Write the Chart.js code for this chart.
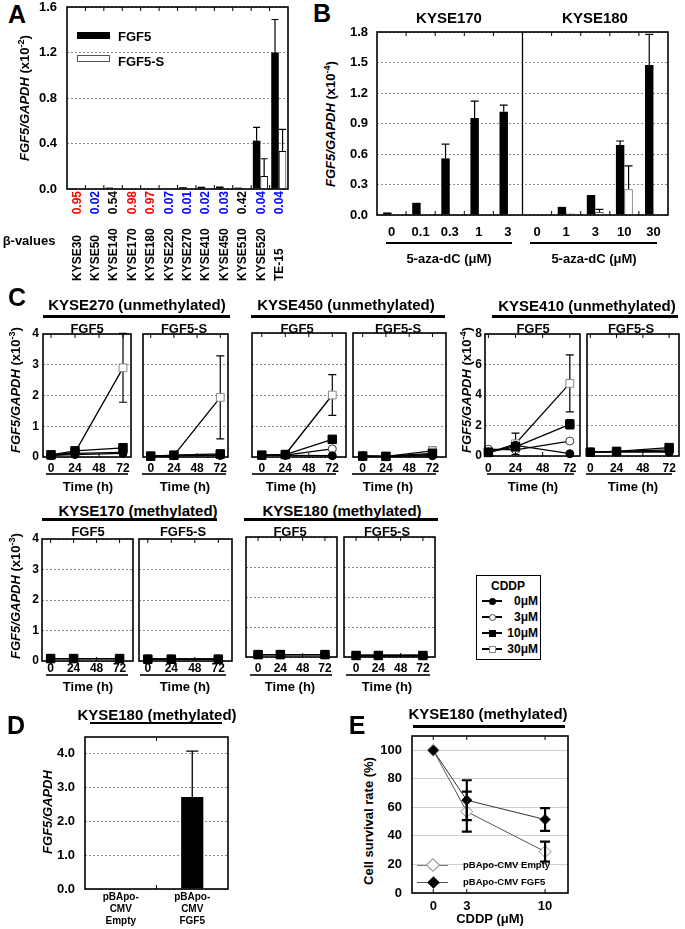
<!DOCTYPE html>
<html><head><meta charset="utf-8">
<script src="https://cdn.jsdelivr.net/npm/chart.js@4.4.1/dist/chart.umd.min.js"></script>
<style>
html,body{margin:0;padding:0;background:#fff;}
#fig{position:relative;width:685px;height:929px;overflow:hidden;background:#fff;font-family:"Liberation Sans",Arial,sans-serif;font-weight:bold;color:#000;}
#fig canvas{position:absolute;}
.t{position:absolute;white-space:nowrap;transform:translate(-50%,-50%);line-height:1;z-index:2;}
.l{position:absolute;white-space:nowrap;transform:translate(0,-50%);line-height:1;z-index:2;}
.rt{position:absolute;white-space:nowrap;transform:translate(-100%,-50%);line-height:1;z-index:2;}
.r{position:absolute;white-space:nowrap;transform:translate(-50%,-50%) rotate(-90deg);line-height:1;z-index:2;}
.u{position:absolute;background:#000;z-index:2;}
.box{position:absolute;z-index:2;box-sizing:border-box;}
sup{font-size:0.7em;vertical-align:0.45em;line-height:0;}
</style></head>
<body><div id="fig"></div>
<script>
// ================= DATA =================
// Panel A: FGF5 / FGF5-S expression (x10^-2) in cell lines, with beta-values
const cellLinesA = ['KYSE30','KYSE50','KYSE140','KYSE170','KYSE180','KYSE220','KYSE270','KYSE410','KYSE450','KYSE510','KYSE520','TE-15'];
const betaValuesA = [0.95,0.02,0.54,0.98,0.97,0.07,0.01,0.02,0.03,0.42,0.04,0.04];
const fgf5A = [0.002,0.004,0.012,0.004,0.003,0.006,0.016,0.02,0.022,0.012,0.425,1.20];
const fgf5ErrA = [0,0,0,0,0,0,0,0,0,0,0.117,0.29];
const fgf5sA = [0,0.001,0.003,0.001,0.001,0.001,0.004,0.004,0.005,0.003,0.114,0.334];
const fgf5sErrA = [0,0,0,0,0,0,0,0,0,0,0.152,0.19];
const yTicksA = [0,0.4,0.8,1.2,1.6];

// Panel B: 5-aza-dC treatment (x10^-4)
const cellLinesB = ['KYSE170','KYSE180'];
const dosesB = ['0','0.1','0.3','1','3','0','1','3','10','30'];
const fgf5B = [0.025,0.12,0.557,0.955,1.015,0.006,0.08,0.197,0.688,1.476];
const fgf5ErrB = [0,0,0.14,0.165,0.065,0,0,0,0.04,0.3];
const fgf5sB = [0.002,0.004,0.002,0.002,0.002,0.002,0.015,0.03,0.253,0.002];
const fgf5sErrB = [0,0,0,0,0,0,0,0.025,0.23,0];
const yTicksB = [0,0.3,0.6,0.9,1.2,1.5,1.8];

// Panel C: time course after CDDP; rows = 0, 3, 10, 30 uM
const timeC = [0,24,72];
const xTicksC = [0,24,48,72];
const cddpC = ['0μM','3μM','10μM','30μM'];
const k270FGF5 = [[0.05,0.08,0.12],[0.05,0.12,0.15],[0.07,0.2,0.3],[0.06,0.15,2.9]];
const k270FGF5Err = [[0,0,0],[0,0,0],[0,0.03,0.06],[0,0.05,1.12]];
const k270FGF5S = [[0.02,0.04,0.05],[0.02,0.05,0.06],[0.03,0.06,0.1],[0.02,0.05,1.94]];
const k270FGF5SErr = [[0,0,0],[0,0,0],[0,0,0],[0,0,1.35]];
const k450FGF5 = [[0.05,0.05,0.04],[0.05,0.06,0.26],[0.06,0.08,0.57],[0.05,0.08,2.0]];
const k450FGF5Err = [[0,0,0],[0,0,0.04],[0,0,0.08],[0,0,0.66]];
const k450FGF5S = [[0.03,0.02,0.04],[0.03,0.02,0.08],[0.03,0.02,0.12],[0.03,0.02,0.2]];
const k450FGF5SErr = [[0,0,0],[0,0,0],[0,0,0],[0,0,0.12]];
const k410FGF5 = [[0.25,0.7,0.15],[0.45,0.4,0.98],[0.25,0.6,2.08],[0.2,0.8,4.76]];
const k410FGF5Err = [[0,0,0],[0,0,0.1],[0,0.3,0.3],[0,0.7,1.87]];
const k410FGF5S = [[0.25,0.25,0.25],[0.25,0.3,0.3],[0.25,0.3,0.55],[0.25,0.3,0.4]];
const k170FGF5 = [[0.08,0.08,0.08],[0.08,0.08,0.08],[0.08,0.08,0.08],[0.08,0.08,0.08]];
const k170FGF5S = [[0.06,0.06,0.06],[0.06,0.06,0.06],[0.06,0.06,0.06],[0.06,0.06,0.06]];
const k180FGF5 = [[0.08,0.08,0.08],[0.08,0.08,0.08],[0.08,0.08,0.08],[0.08,0.08,0.08]];
const k180FGF5S = [[0.05,0.05,0.05],[0.05,0.05,0.05],[0.05,0.05,0.05],[0.05,0.05,0.05]];
const yTicksC3 = [0,1,2,3,4];
const yTicksC4 = [0,2,4,6,8];

// Panel D
const vectorsD = [['pBApo-','CMV','Empty'],['pBApo-','CMV','FGF5']];
const fgf5D = [0, 2.72];
const fgf5ErrD = [0, 1.36];
const yTicksD = [0,1,2,3,4];

// Panel E
const cddpE = [0,3,10];
const survEmptyE = [100,57,29];
const survEmptyErrE = [0,14,7];
const survFgf5E = [100,65,51.5];
const survFgf5ErrE = [0,14,8];
const xTicksE = [0,3,10];
const yTicksE = [0,20,40,60,80,100];

// ================= HELPERS =================
const FONT = '"Liberation Sans", Arial, sans-serif';
Chart.defaults.font.family = FONT;
Chart.defaults.font.weight = 'bold';
Chart.defaults.color = '#000';
const fig = document.getElementById('fig');

function el(cls, html, x, y, size, extra) {
  const d = document.createElement('div');
  d.className = cls; d.innerHTML = html;
  d.style.left = x + 'px'; d.style.top = y + 'px';
  if (size) d.style.fontSize = size + 'px';
  if (extra) Object.assign(d.style, extra);
  fig.appendChild(d); return d;
}
function uline(x1, x2, y, th, color) {
  const d = document.createElement('div'); d.className = 'u';
  Object.assign(d.style, {left: x1 + 'px', top: (y - th / 2) + 'px', width: (x2 - x1) + 'px', height: th + 'px', background: color || '#000'});
  fig.appendChild(d);
}
function boxDiv(x, y, w, h, style) {
  const d = document.createElement('div'); d.className = 'box';
  Object.assign(d.style, {left: x + 'px', top: y + 'px', width: w + 'px', height: h + 'px'}, style);
  fig.appendChild(d); return d;
}

function mk(b, config) {
  const c = document.createElement('canvas');
  c.width = b.cw; c.height = b.ch;
  Object.assign(c.style, {left: b.cx + 'px', top: b.cy + 'px', width: b.cw + 'px', height: b.ch + 'px'});
  fig.appendChild(c);
  const yW = b.pl - b.cx, xH = b.cy + b.ch - b.pb;
  const o = config.options;
  o.responsive = false; o.animation = false; o.events = [];
  o.devicePixelRatio = 1;
  o.layout = {padding: {left: 0, top: b.pt - b.cy, right: b.cx + b.cw - b.pr, bottom: 0}};
  o.scales.x.afterFit = s => { s.height = xH; s.paddingLeft = 0; s.paddingRight = 0; s.paddingTop = 0; s.paddingBottom = 0; };
  o.scales.y.afterFit = s => { s.width = yW; s.paddingLeft = 0; s.paddingRight = 0; s.paddingTop = 0; s.paddingBottom = 0; };
  o.plugins = Object.assign({legend: {display: false}, tooltip: {enabled: false}}, o.plugins || {});
  return new Chart(c, config);
}

// plot frame with small inward tick marks
function frame(mode) {
  return {
    id: 'frame',
    afterDraw(chart) {
      const a = chart.chartArea, ctx = chart.ctx, xs = chart.scales.x;
      let pos = [];
      if (mode === 'cat') {
        for (let i = 0; i < chart.data.labels.length - 1; i++) pos.push(xs.getPixelForValue(i + 0.5));
      } else {
        pos = xs.ticks.map(t => xs.getPixelForValue(t.value));
      }
      ctx.save(); ctx.strokeStyle = '#000'; ctx.setLineDash([]);
      ctx.lineWidth = 1;
      ctx.beginPath();
      pos.forEach(x => { ctx.moveTo(x, a.top); ctx.lineTo(x, a.top + 4); ctx.moveTo(x, a.bottom); ctx.lineTo(x, a.bottom - 4); });
      ctx.stroke();
      ctx.lineWidth = 1.6;
      ctx.strokeRect(a.left, a.top, a.right - a.left, a.bottom - a.top);
      ctx.restore();
    }
  };
}

function errorBars(specs, o) {
  const draw = chart => {
    const ctx = chart.ctx, ys = chart.scales.y;
    ctx.save(); ctx.strokeStyle = o.color || '#000'; ctx.lineWidth = o.lw || 1.2; ctx.setLineDash([]);
    specs.forEach(s => {
      if (!s.err) return;
      const meta = chart.getDatasetMeta(s.ds);
      meta.data.forEach((p, i) => {
        const e = s.err[i]; if (!e) return;
        const v = s.vals[i];
        const yt = ys.getPixelForValue(v + e);
        const yb = o.both ? ys.getPixelForValue(v - e) : p.y;
        const hw = o.cap / 2;
        ctx.beginPath();
        ctx.moveTo(p.x, yb); ctx.lineTo(p.x, yt);
        ctx.moveTo(p.x - hw, yt); ctx.lineTo(p.x + hw, yt);
        if (o.both) { ctx.moveTo(p.x - hw, yb); ctx.lineTo(p.x + hw, yb); }
        ctx.stroke();
      });
    });
    ctx.restore();
  };
  return o.after ? {id: 'errorBars', afterDatasetsDraw: draw} : {id: 'errorBars', beforeDatasetsDraw: draw};
}

function yAxis(ticksArr, max, fmt, size, pad, show) {
  return {
    min: 0, max: max,
    afterBuildTicks: s => { s.ticks = ticksArr.map(v => ({value: v})); },
    ticks: {display: show !== false, callback: v => fmt(v), font: {size: size, weight: 'bold'}, color: '#000', padding: pad},
    grid: {color: '#8a8a8a', lineWidth: 1, drawTicks: false},
    border: {display: false, dash: [2, 2]}
  };
}
const noGrid = {display: false, drawTicks: false};

function betaColor(v) { return v >= 0.9 ? '#ff0000' : (v <= 0.1 ? '#0000ff' : '#000'); }

// ================= PANEL A =================
const rotLabelsPlugin = {
  id: 'rotLabels',
  afterDraw(chart) {
    const ctx = chart.ctx, xs = chart.scales.x, bottom = chart.chartArea.bottom;
    ctx.save(); ctx.font = 'bold 12px ' + FONT; ctx.textBaseline = 'middle';
    cellLinesA.forEach((n, i) => {
      const x = xs.getPixelForValue(i) + 1;
      // beta value, right-aligned just under the axis
      ctx.save(); ctx.translate(x, bottom + 2); ctx.rotate(-Math.PI / 2);
      ctx.textAlign = 'right'; ctx.fillStyle = betaColor(betaValuesA[i]);
      ctx.fillText(betaValuesA[i].toFixed(2), 0, 0); ctx.restore();
      // cell line name, bottom-aligned
      ctx.save(); ctx.translate(x, bottom + 92); ctx.rotate(-Math.PI / 2);
      ctx.textAlign = 'left'; ctx.fillStyle = '#000';
      ctx.fillText(n, 0, 0); ctx.restore();
    });
    ctx.restore();
  }
};
mk({cx: 30, cy: 0, cw: 265, ch: 292, pl: 67, pt: 7, pr: 288, pb: 189}, {
  type: 'bar',
  data: {labels: cellLinesA, datasets: [
    {label: 'FGF5', data: fgf5A, backgroundColor: '#000', borderWidth: 0, categoryPercentage: 0.82, barPercentage: 1},
    {label: 'FGF5-S', data: fgf5sA, backgroundColor: '#fff', borderColor: '#000', borderWidth: 1, categoryPercentage: 0.82, barPercentage: 1}
  ]},
  options: {scales: {
    x: {ticks: {display: false}, grid: noGrid, border: {display: false}},
    y: yAxis(yTicksA, 1.6, v => v.toFixed(1), 13, 10)
  }},
  plugins: [errorBars([{ds: 0, vals: fgf5A, err: fgf5ErrA}, {ds: 1, vals: fgf5sA, err: fgf5sErrA}], {cap: 7, lw: 1.2, after: true}), frame('cat'), rotLabelsPlugin]
});
el('t', 'A', 17, 14, 25);
el('r', '<i>FGF5/GAPDH</i> (x10<sup>-2</sup>)', 24, 98, 13);
el('t', 'β-values', 29, 240, 13);
boxDiv(77, 32, 33, 7, {background: '#000'});
el('l', 'FGF5', 118, 36, 13);
boxDiv(77, 55, 33, 7, {background: '#fff', border: '1px solid #555'});
el('l', 'FGF5-S', 118, 61, 13);

// ================= PANEL B =================
const dividerPlugin = {
  id: 'divider',
  afterDraw(chart) {
    const a = chart.chartArea, ctx = chart.ctx, xs = chart.scales.x;
    const x = xs.getPixelForValue(dosesB.length / 2 - 0.5);
    ctx.save(); ctx.strokeStyle = '#000'; ctx.lineWidth = 1.3;
    ctx.beginPath(); ctx.moveTo(x, a.top); ctx.lineTo(x, a.bottom); ctx.stroke(); ctx.restore();
  }
};
mk({cx: 345, cy: 25, cw: 330, ch: 222, pl: 377, pt: 32, pr: 668, pb: 215}, {
  type: 'bar',
  data: {labels: dosesB, datasets: [
    {label: 'FGF5', data: fgf5B, backgroundColor: '#000', borderWidth: 0, categoryPercentage: 0.58, barPercentage: 1},
    {label: 'FGF5-S', data: fgf5sB, backgroundColor: '#fff', borderColor: '#555', borderWidth: 1, categoryPercentage: 0.58, barPercentage: 1}
  ]},
  options: {scales: {
    x: {ticks: {autoSkip: false, maxRotation: 0, padding: 10, font: {size: 13, weight: 'bold'}}, grid: noGrid, border: {display: false}},
    y: yAxis(yTicksB, 1.8, v => v.toFixed(1), 13, 9)
  }},
  plugins: [errorBars([{ds: 0, vals: fgf5B, err: fgf5ErrB}, {ds: 1, vals: fgf5sB, err: fgf5sErrB}], {cap: 8, lw: 1.2, after: true}), frame('cat'), dividerPlugin]
});
el('t', 'B', 322, 13, 25);
el('t', cellLinesB[0], 449, 17, 15);
el('t', cellLinesB[1], 595, 17, 15);
el('r', '<i>FGF5/GAPDH</i> (x10<sup>-4</sup>)', 330, 124, 13);
uline(386, 512, 243, 2); uline(530, 657, 243, 2);
el('t', '5-aza-dC (μM)', 449, 258, 13);
el('t', '5-aza-dC (μM)', 594, 258, 13);

// ================= PANEL C =================
const cStyles = [
  {pointStyle: 'circle', pointRadius: 4, pointBackgroundColor: '#000', pointBorderColor: '#000'},
  {pointStyle: 'circle', pointRadius: 4, pointBackgroundColor: '#fff', pointBorderColor: '#444'},
  {pointStyle: 'rect', pointRadius: 6, pointBackgroundColor: '#000', pointBorderColor: '#000'},
  {pointStyle: 'rect', pointRadius: 5.5, pointBackgroundColor: '#fff', pointBorderColor: '#888'}
];
const drawOrder = [2, 0, 1, 3];
function cPlot(b, series, errs, yTicks, ymax, showY, ypad, xmin, xmax, xpad) {
  const box = Object.assign({cx: b.pl - (showY ? 24 : 3), cy: b.pt - 7}, b);
  box.cw = b.pr - box.cx + 7; box.ch = b.pb - box.cy + 20;
  const datasets = drawOrder.map(k => Object.assign({
    label: cddpC[k], data: timeC.map((t, i) => ({x: t, y: series[k][i]})),
    borderColor: '#000', borderWidth: 1.3, pointBorderWidth: 1, clip: false
  }, cStyles[k]));
  const specs = drawOrder.map((k, di) => ({ds: di, vals: series[k], err: errs ? errs[k] : null}));
  mk(box, {
    type: 'line',
    data: {datasets: datasets},
    options: {scales: {
      x: {type: 'linear', min: xmin, max: xmax,
          afterBuildTicks: s => { s.ticks = xTicksC.map(v => ({value: v})); },
          ticks: {padding: xpad, font: {size: 12, weight: 'bold'}, maxRotation: 0},
          grid: noGrid, border: {display: false}},
      y: yAxis(yTicks, ymax, v => String(v), 12, ypad, showY)
    }},
    plugins: [errorBars(specs, {cap: 8, lw: 1.2, both: true}), frame('lin')]
  });
}
// top row
cPlot({pl: 43, pt: 334, pr: 131, pb: 457}, k270FGF5, k270FGF5Err, yTicksC3, 4, true, 4, -8, 80, 4);
cPlot({pl: 139, pt: 334, pr: 228, pb: 457}, k270FGF5S, k270FGF5SErr, yTicksC3, 4, false, 4, -8, 80, 4);
cPlot({pl: 248, pt: 333, pr: 346, pb: 457}, k450FGF5, k450FGF5Err, yTicksC3, 4, false, 4, -10, 86, 4);
cPlot({pl: 349, pt: 333, pr: 446, pb: 457}, k450FGF5S, k450FGF5SErr, yTicksC3, 4, false, 4, -10, 86, 4);
cPlot({pl: 485, pt: 334, pr: 580, pb: 456}, k410FGF5, k410FGF5Err, yTicksC4, 8, true, 3, -3, 81, 5);
cPlot({pl: 583, pt: 334, pr: 679, pb: 456}, k410FGF5S, null, yTicksC4, 8, false, 3, -3, 81, 5);
// bottom row
cPlot({pl: 42, pt: 539, pr: 133, pb: 661}, k170FGF5, null, yTicksC3, 4, true, 3, -9, 86, 0);
cPlot({pl: 135, pt: 539, pr: 232, pb: 661}, k170FGF5S, null, yTicksC3, 4, false, 3, -9, 86, 0);
cPlot({pl: 242, pt: 537, pr: 337, pb: 657}, k180FGF5, null, yTicksC3, 4, false, 3, -13, 85, 4);
cPlot({pl: 340, pt: 537, pr: 435, pb: 657}, k180FGF5S, null, yTicksC3, 4, false, 3, -13, 85, 4);

el('t', 'C', 17, 297, 25);
el('t', 'KYSE270 (unmethylated)', 137, 304, 15); uline(43, 230, 316, 3);
el('t', 'KYSE450 (unmethylated)', 346, 304, 15); uline(251, 445, 316, 3);
el('t', 'KYSE410 (unmethylated)', 587, 305, 15); uline(492, 678, 316, 3);
el('t', 'KYSE170 (methylated)', 138, 510, 15); uline(42, 217, 519, 3);
el('t', 'KYSE180 (methylated)', 342, 510, 15); uline(244, 438, 519, 3);
[[87, 328, 'FGF5'], [184, 328, 'FGF5-S'], [297, 328, 'FGF5'], [398, 328, 'FGF5-S'], [533, 328, 'FGF5'], [631, 328, 'FGF5-S'],
 [88, 531, 'FGF5'], [183, 531, 'FGF5-S'], [290, 531, 'FGF5'], [387, 531, 'FGF5-S']].forEach(a => el('t', a[2], a[0], a[1], 13));
el('r', '<i>FGF5/GAPDH</i> (x10<sup>-3</sup>)', 15, 390, 13);
el('r', '<i>FGF5/GAPDH</i> (x10<sup>-4</sup>)', 466, 390, 13);
el('r', '<i>FGF5/GAPDH</i> (x10<sup>-3</sup>)', 15, 596, 13);
[[46, 128, 88, 474, 486], [142, 226, 185, 474, 486], [252, 336, 291, 474, 486], [352, 436, 388, 474, 486],
 [487, 574, 533, 474, 486], [586, 672, 633, 474, 486],
 [46, 128, 88, 675, 686], [140, 226, 185, 675, 686], [250, 332, 290, 675, 686], [346, 430, 387, 675, 686]].forEach(a => {
  uline(a[0], a[1], a[3], 1.5, '#333'); el('t', 'Time (h)', a[2], a[4], 13);
});
// CDDP legend
boxDiv(476, 575, 65, 85, {border: '1px solid #000', background: '#fff'});
el('t', 'CDDP', 508, 586, 12);
const legY = [601, 617, 633, 649];
const legMarks = [
  {w: 7, h: 7, background: '#000', borderRadius: '50%'},
  {w: 7, h: 7, background: '#fff', border: '1px solid #444', borderRadius: '50%'},
  {w: 7, h: 7, background: '#000'},
  {w: 7, h: 7, background: '#fff', border: '1px solid #888'}
];
cddpC.forEach((lab, i) => {
  uline(482, 502, legY[i], 1.3, '#000');
  const m = legMarks[i];
  boxDiv(492 - m.w / 2, legY[i] - m.h / 2, m.w, m.h, {background: m.background, border: m.border || 'none', borderRadius: m.borderRadius || '0'});
  el('rt', lab, 538, legY[i], 12);
});

// ================= PANEL D =================
mk({cx: 50, cy: 730, cw: 185, ch: 197, pl: 85, pt: 737, pr: 228, pb: 889}, {
  type: 'bar',
  data: {labels: vectorsD, datasets: [
    {label: 'FGF5/GAPDH', data: fgf5D, backgroundColor: '#000', borderWidth: 0, categoryPercentage: 1, barPercentage: 0.31}
  ]},
  options: {scales: {
    x: {ticks: {autoSkip: false, maxRotation: 0, padding: 2, font: {size: 10, weight: 'bold', lineHeight: 1.2}}, grid: noGrid, border: {display: false}},
    y: yAxis(yTicksD, 4.5, v => v.toFixed(1), 13, 10)
  }},
  plugins: [errorBars([{ds: 0, vals: fgf5D, err: fgf5ErrD}], {cap: 12, lw: 1.3, after: true}), frame('cat')]
});
el('t', 'D', 16, 725, 25);
el('t', 'KYSE180 (methylated)', 157, 714, 15); uline(90, 222, 723, 2);
el('r', '<i>FGF5/GAPDH</i>', 47, 812, 13);

// ================= PANEL E =================
mk({cx: 380, cy: 728, cw: 195, ch: 198, pl: 412, pt: 736, pr: 570, pb: 893}, {
  type: 'line',
  data: {datasets: [
    {label: 'pBApo-CMV FGF5', data: cddpE.map((x, i) => ({x: x, y: survFgf5E[i]})), borderColor: '#333', borderWidth: 1,
     pointStyle: 'rectRot', pointRadius: 5, pointBackgroundColor: '#000', pointBorderColor: '#000', pointBorderWidth: 1, clip: false},
    {label: 'pBApo-CMV Empty', data: cddpE.map((x, i) => ({x: x, y: survEmptyE[i]})), borderColor: '#555', borderWidth: 1,
     pointStyle: 'rectRot', pointRadius: 6, pointBackgroundColor: '#fff', pointBorderColor: '#888', pointBorderWidth: 1, clip: false}
  ]},
  options: {scales: {
    x: {type: 'linear', min: -1.9, max: 12.05,
        afterBuildTicks: s => { s.ticks = xTicksE.map(v => ({value: v})); },
        ticks: {padding: 6, font: {size: 13, weight: 'bold'}, maxRotation: 0},
        grid: noGrid, border: {display: false}},
    y: Object.assign(yAxis(yTicksE, 110, v => String(v), 13, 10), {grid: {color: '#cfcfcf', lineWidth: 1, drawTicks: false}, border: {display: false}})
  }},
  plugins: [errorBars([{ds: 0, vals: survFgf5E, err: survFgf5ErrE}, {ds: 1, vals: survEmptyE, err: survEmptyErrE}], {cap: 10, lw: 2.2, both: true, after: true}), frame('none')]
});
el('t', 'E', 357, 725, 25);
el('t', 'KYSE180 (methylated)', 488, 713, 15); uline(413, 565, 726, 3);
el('r', 'Cell survival rate (%)', 368, 821, 13);
el('t', 'CDDP (μM)', 490, 918, 13);
uline(417, 448, 865, 1, '#777');
boxDiv(428, 860, 10, 10, {background: '#fff', border: '1px solid #888', transform: 'rotate(45deg)'});
el('l', 'pBApo-CMV Empty', 463, 865, 9.5);
uline(417, 448, 882, 1, '#555');
boxDiv(428.5, 877.5, 9, 9, {background: '#000', transform: 'rotate(45deg)'});
el('l', 'pBApo-CMV FGF5', 463, 882, 9.5);
</script>
</body></html>
